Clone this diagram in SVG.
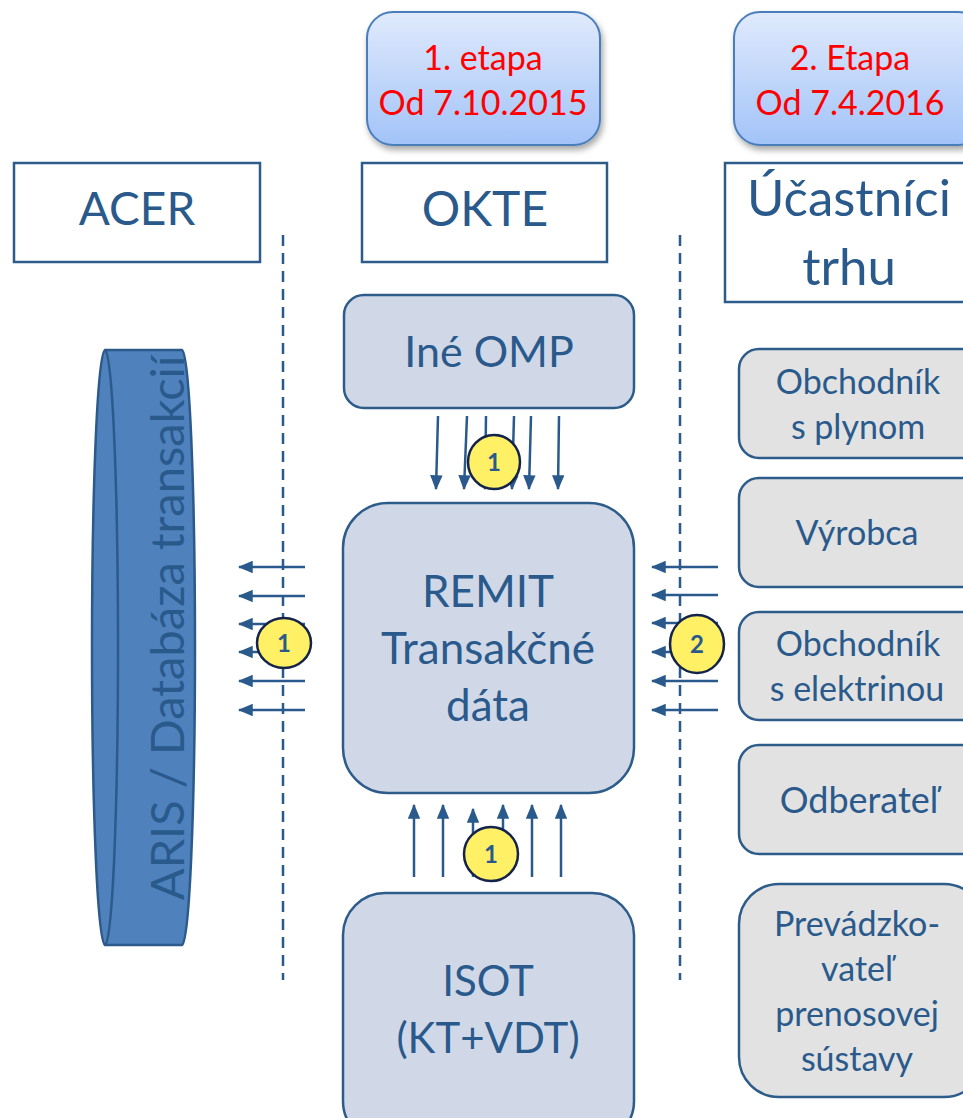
<svg xmlns="http://www.w3.org/2000/svg" width="963" height="1118" viewBox="0 0 963 1118">
<style>
text{font-family:Lato,"Open Sans","DejaVu Sans",sans-serif;fill:#2a5a8c;text-anchor:middle}
.hdr{fill:#fff;stroke:#2e5c8a;stroke-width:2.5}
.node{fill:#d0d8e8;stroke:#2e5c8a;stroke-width:2.5}
.part{fill:#e2e2e2;stroke:#2e5c8a;stroke-width:2.5}
.stage{fill:url(#sg);stroke:#4a7ebb;stroke-width:2}
.red{fill:#ff0000;font-size:34px}
.pt{font-size:34px}
.arr{stroke:#2a5a8c;stroke-width:2.5;fill:none;marker-end:url(#ah)}
.dash{stroke:#2a5a8c;stroke-width:2.5;stroke-dasharray:11 7;fill:none}
.badge{fill:#fff066;stroke:#14234a;stroke-width:2.5}
.bt{font-size:24px;font-weight:bold;fill:#2a5a8c}
</style>
<defs>
<linearGradient id="sg" x1="0" y1="0" x2="0" y2="1">
<stop offset="0" stop-color="#e0eafc"/>
<stop offset="1" stop-color="#a2c3f8"/>
</linearGradient>
<filter id="sh" x="-20%" y="-20%" width="140%" height="140%">
<feDropShadow dx="2" dy="4" stdDeviation="3" flood-color="#000" flood-opacity="0.35"/>
</filter>
<marker id="ah" markerWidth="6" markerHeight="5" refX="5.5" refY="2.5" orient="auto" markerUnits="strokeWidth">
<path d="M0,0 L6,2.5 L0,5 Z" fill="#2a5a8c"/>
</marker>
</defs>

<g id="stage1">
<rect class="stage" x="367" y="12" width="233" height="133" rx="26" filter="url(#sh)"/>
<text class="red" x="483" y="70">1. etapa</text>
<text class="red" x="483" y="115">Od 7.10.2015</text>
</g>
<g id="stage2">
<rect class="stage" x="734" y="12" width="250" height="133" rx="26" filter="url(#sh)"/>
<text class="red" x="850" y="70">2. Etapa</text>
<text class="red" x="850" y="115">Od 7.4.2016</text>
</g>

<g id="acer">
<rect class="hdr" x="14" y="163" width="246" height="99"/>
<text x="137" y="225" font-size="46">ACER</text>
</g>
<g id="okte">
<rect class="hdr" x="362" y="163" width="245" height="99"/>
<text x="485" y="226" font-size="48">OKTE</text>
</g>
<g id="ucastnici">
<rect class="hdr" x="725" y="163" width="260" height="139"/>
<text x="849" y="216" font-size="51">Účastníci</text>
<text x="849" y="285" font-size="51">trhu</text>
</g>

<g id="aris">
<path d="M105,350 L182,350 A13,297.5 0 0 1 182,945 L105,945 A13,297.5 0 0 1 105,350 Z" fill="#4f81bd" stroke="#2c5a8a" stroke-width="2.5"/>
<path d="M105,350 A13,297.5 0 0 1 105,945" fill="none" stroke="#2c5a8a" stroke-width="2.5"/>
<text transform="translate(184,628) rotate(-90)" x="0" y="0" font-size="47" fill="#2a5a8c">ARIS / Databáza transakcií</text>
</g>

<g id="ine-omp">
<rect class="node" x="344" y="295" width="290" height="113" rx="20"/>
<text x="489" y="367" font-size="43">Iné OMP</text>
</g>
<g id="remit">
<rect class="node" x="343" y="503" width="291" height="290" rx="45"/>
<text x="488" y="607" font-size="44">REMIT</text>
<text x="488" y="664" font-size="44">Transakčné</text>
<text x="488" y="721" font-size="44">dáta</text>
</g>
<g id="isot">
<rect class="node" x="343" y="893" width="291" height="250" rx="42"/>
<text x="488" y="996" font-size="42">ISOT</text>
<text x="488" y="1053" font-size="42">(KT+VDT)</text>
</g>

<g id="obchodnik-plyn">
<rect class="part" x="739" y="349" width="245" height="109" rx="20"/>
<text class="pt" x="858" y="394">Obchodník</text>
<text class="pt" x="858" y="439">s plynom</text>
</g>
<g id="vyrobca">
<rect class="part" x="739" y="478" width="245" height="109" rx="20"/>
<text class="pt" x="857" y="545">Výrobca</text>
</g>
<g id="obchodnik-elektrina">
<rect class="part" x="739" y="612" width="245" height="108" rx="20"/>
<text class="pt" x="858" y="656">Obchodník</text>
<text class="pt" x="857" y="701">s elektrinou</text>
</g>
<g id="odberatel">
<rect class="part" x="739" y="745" width="245" height="109" rx="20"/>
<text x="859" y="813" font-size="36">Odberateľ</text>
</g>
<g id="prevadzkovatel">
<rect class="part" x="739" y="884" width="245" height="213" rx="40"/>
<text class="pt" x="857" y="936">Prevádzko-</text>
<text class="pt" x="857" y="981">vateľ</text>
<text class="pt" x="857" y="1026">prenosovej</text>
<text class="pt" x="857" y="1071">sústavy</text>
</g>

<g id="connectors">
<line class="dash" x1="283" y1="235" x2="283" y2="980"/>
<line class="dash" x1="680" y1="235" x2="680" y2="980"/>

<line class="arr" x1="305" y1="567" x2="239" y2="567"/>
<line class="arr" x1="305" y1="596" x2="239" y2="596"/>
<line class="arr" x1="305" y1="624" x2="239" y2="624"/>
<line class="arr" x1="305" y1="652" x2="239" y2="652"/>
<line class="arr" x1="305" y1="681" x2="239" y2="681"/>
<line class="arr" x1="305" y1="710" x2="239" y2="710"/>

<line class="arr" x1="718" y1="567" x2="652" y2="567"/>
<line class="arr" x1="718" y1="595" x2="652" y2="595"/>
<line class="arr" x1="718" y1="623" x2="652" y2="623"/>
<line class="arr" x1="718" y1="652" x2="652" y2="652"/>
<line class="arr" x1="718" y1="681" x2="652" y2="681"/>
<line class="arr" x1="718" y1="710" x2="652" y2="710"/>

<line class="arr" x1="438" y1="416" x2="436" y2="489"/>
<line class="arr" x1="467" y1="416" x2="464" y2="489"/>
<line class="arr" x1="486" y1="416" x2="485" y2="489"/>
<line class="arr" x1="514" y1="416" x2="512" y2="489"/>
<line class="arr" x1="531" y1="416" x2="529" y2="489"/>
<line class="arr" x1="559" y1="416" x2="558" y2="489"/>

<line class="arr" x1="414" y1="877" x2="414" y2="805"/>
<line class="arr" x1="443" y1="877" x2="443" y2="805"/>
<line class="arr" x1="473" y1="877" x2="473" y2="809"/>
<line class="arr" x1="503" y1="877" x2="503" y2="805"/>
<line class="arr" x1="532" y1="877" x2="532" y2="805"/>
<line class="arr" x1="561" y1="877" x2="561" y2="805"/>
</g>

<g id="badge-top">
<ellipse class="badge" cx="494" cy="462" rx="26" ry="27"/>
<text class="bt" x="494" y="471">1</text>
</g>
<g id="badge-left">
<ellipse class="badge" cx="284" cy="643" rx="27" ry="25"/>
<text class="bt" x="284" y="652">1</text>
</g>
<g id="badge-right">
<ellipse class="badge" cx="697" cy="644" rx="27" ry="29"/>
<text class="bt" x="697" y="653">2</text>
</g>
<g id="badge-bottom">
<ellipse class="badge" cx="491" cy="854" rx="27" ry="27"/>
<text class="bt" x="491" y="863">1</text>
</g>
</svg>
